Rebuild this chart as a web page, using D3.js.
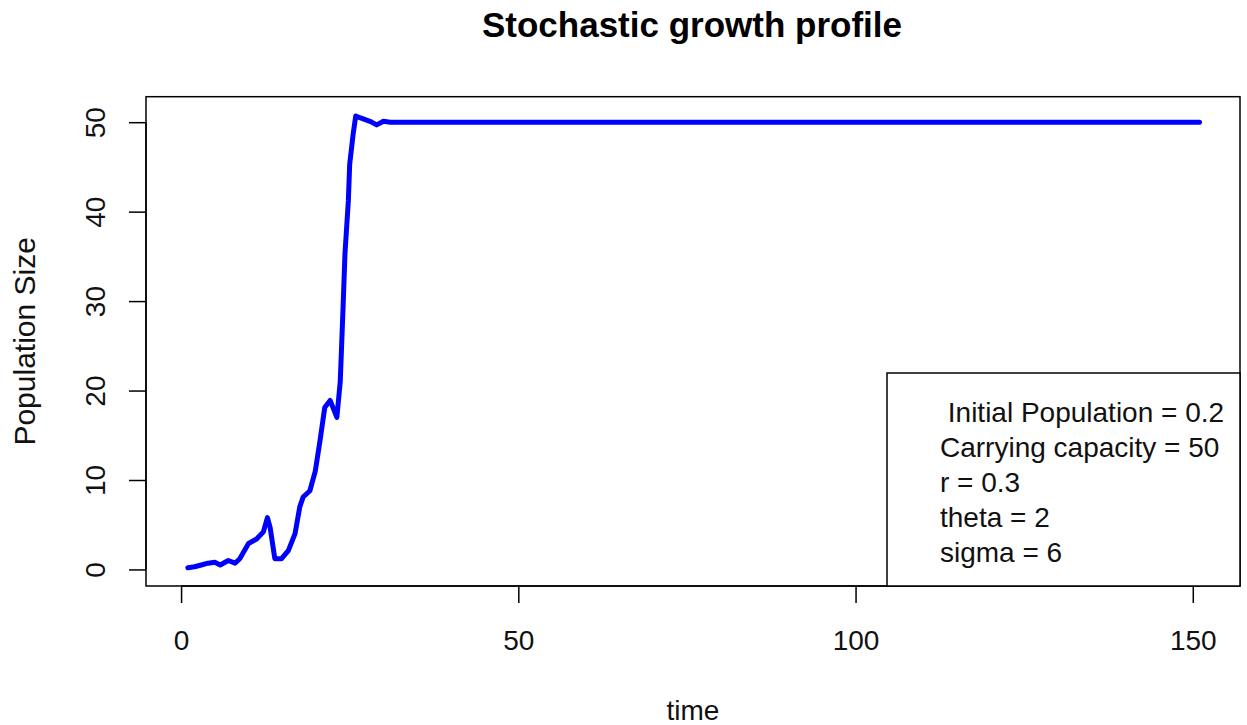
<!DOCTYPE html>
<html>
<head>
<meta charset="utf-8">
<script src="https://cdn.jsdelivr.net/npm/d3@7"></script>
<style>
  html, body { margin: 0; padding: 0; background: #fff; }
  svg { display: block; font-family: "Liberation Sans", Arial, sans-serif; }
</style>
</head>
<body>
<svg id="chart" width="1247" height="725"></svg>
<script>
// ---- data ----
const time = [1, 2, 3, 4, 5, 5.8, 7, 8, 8.7, 10, 11.2, 12.2, 12.8, 13.2, 13.9, 14.9, 15.9, 16.9,
              17.6, 18.1, 19.1, 19.9, 20.6, 21.3, 22.1, 23.1, 23.6, 24.0, 24.3, 24.8, 25.0, 25.5,
              25.9, 26.5, 28, 29, 30, 31, 151];
const population = [0.2, 0.3, 0.5, 0.7, 0.8, 0.5, 1.0, 0.7, 1.2, 2.9, 3.4, 4.2, 5.8, 4.7, 1.2, 1.2, 2.1, 4.0,
                    7.0, 8.1, 8.8, 11.0, 14.4, 18.1, 18.9, 17.0, 21.0, 28.9, 35.3, 41.2, 45.3, 48.6,
                    50.7, 50.5, 50.1, 49.7, 50.1, 50.0, 50.0];
const xTicks = [0, 50, 100, 150];
const yTicks = [0, 10, 20, 30, 40, 50];
const legendLines = [" Initial Population = 0.2", "Carrying capacity = 50", "r = 0.3", "theta = 2", "sigma = 6"];
const titleText = "Stochastic growth profile";
const xLabel = "time";
const yLabel = "Population Size";

// ---- layout ----
const svg = d3.select("#chart");
const plot = { left: 146, right: 1240, top: 96.7, bottom: 586 };
const x = d3.scaleLinear().domain([-5.2, 157]).range([plot.left, plot.right]);
const y = d3.scaleLinear().domain([-1.85, 52.85]).range([plot.bottom, plot.top]);
const fs = 28;

// line
const line = d3.line().x((d, i) => x(time[i])).y(d => y(d));
svg.append("path")
  .datum(population)
  .attr("d", line)
  .attr("fill", "none")
  .attr("stroke", "#0000FF")
  .attr("stroke-width", 5)
  .attr("stroke-linejoin", "round")
  .attr("stroke-linecap", "round");

// plot box
svg.append("rect")
  .attr("x", plot.left).attr("y", plot.top)
  .attr("width", plot.right - plot.left).attr("height", plot.bottom - plot.top)
  .attr("fill", "none").attr("stroke", "#000").attr("stroke-width", 1.5);

// x axis
const xAxis = d3.axisBottom(x).tickValues(xTicks).tickSize(17).tickPadding(28).tickFormat(d3.format("d"));
const gx = svg.append("g").attr("transform", `translate(0,${plot.bottom})`).call(xAxis);
gx.select(".domain").attr("d", `M${x(xTicks[0])},0H${x(xTicks[xTicks.length-1])}`).attr("stroke-width", 1.5);
gx.selectAll(".tick line").attr("stroke-width", 1.5);
gx.selectAll(".tick text").attr("font-size", fs).attr("font-family", "Liberation Sans, Arial, sans-serif")
  .attr("fill", "#111").attr("dy", null).attr("y", 64);

// y axis
const yAxis = d3.axisLeft(y).tickValues(yTicks).tickSize(17).tickFormat(d3.format("d"));
const gy = svg.append("g").attr("transform", `translate(${plot.left},0)`).call(yAxis);
gy.select(".domain").attr("d", `M0,${y(yTicks[0])}V${y(yTicks[yTicks.length-1])}`).attr("stroke-width", 1.5);
gy.selectAll(".tick line").attr("stroke-width", 1.5);
gy.selectAll(".tick text")
  .attr("font-size", fs).attr("font-family", "Liberation Sans, Arial, sans-serif").attr("fill", "#111")
  .attr("x", null).attr("dy", null)
  .attr("text-anchor", "middle")
  .attr("transform", "translate(-41,0) rotate(-90)");

// title
svg.append("text")
  .attr("x", 692).attr("y", 37)
  .attr("text-anchor", "middle").attr("font-size", 35).attr("font-weight", "bold").attr("fill", "#000")
  .text(titleText);

// axis titles
svg.append("text")
  .attr("x", (plot.left + plot.right) / 2).attr("y", 720)
  .attr("text-anchor", "middle").attr("font-size", fs).attr("fill", "#111")
  .text(xLabel);
svg.append("text")
  .attr("transform", `translate(35,${(plot.top + plot.bottom) / 2}) rotate(-90)`)
  .attr("text-anchor", "middle").attr("font-size", 30).attr("fill", "#111")
  .text(yLabel);

// legend box
const lg = { left: 887, top: 373, right: 1240, bottom: 586 };
svg.append("rect")
  .attr("x", lg.left).attr("y", lg.top)
  .attr("width", lg.right - lg.left).attr("height", lg.bottom - lg.top)
  .attr("fill", "#fff").attr("stroke", "#000").attr("stroke-width", 1.5);
svg.append("g").selectAll("text").data(legendLines).join("text")
  .attr("x", 940)
  .attr("y", (d, i) => 421.5 + i * 35)
  .attr("font-size", fs).attr("fill", "#111")
  .style("white-space", "pre")
  .text(d => d);
</script>
</body>
</html>
